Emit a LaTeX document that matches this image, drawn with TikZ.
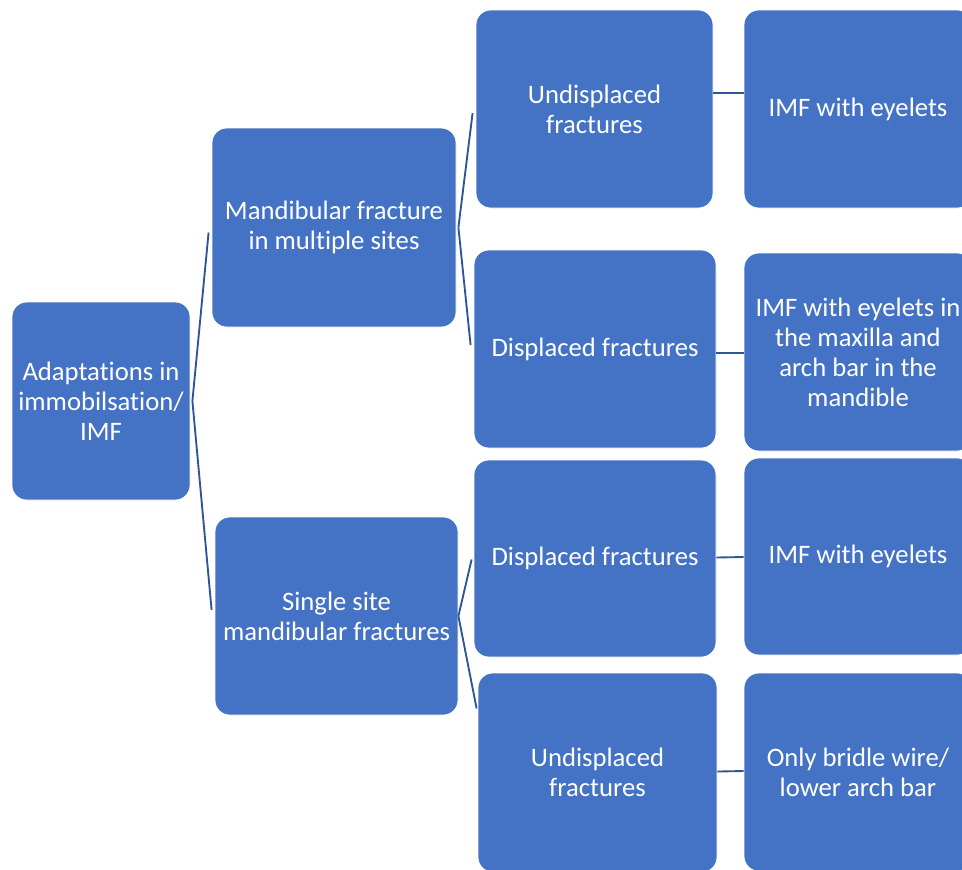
\documentclass[tikz,border=0pt]{standalone}
\usepackage{fontspec}
\setmainfont{Carlito}[Ligatures=NoCommon]
\usetikzlibrary{calc}
\definecolor{boxblue}{HTML}{4472C4}
\definecolor{linkblue}{HTML}{2F5597}
\begin{document}
\begin{tikzpicture}[x=0.75pt,y=-0.75pt,
  sabox/.style n args={2}{draw=white, line width=0.6pt, fill=boxblue, rounded corners=11pt,
    text=white, align=center, inner sep=2pt,
    font=\fontsize{20pt}{22.5pt}\selectfont,
    minimum width=#1*0.75pt, minimum height=#2*0.75pt},
  link/.style={draw=linkblue, line width=1.4pt}]
\useasboundingbox (0,0) rectangle (962,869);
\clip (0,0) rectangle (962,869);
\node[sabox={178}{198}] (root) at (101,401) {Adaptations in\\immobilsation/\\IMF};
\node[sabox={244}{199}] (mid1) at (334,227.5) {Mandibular fracture\\in multiple sites};
\node[sabox={243}{198}] (mid2) at (336.5,616) {Single site\\mandibular fractures};
\node[sabox={237}{198}] (l3a) at (594.5,109) {Undisplaced\\fractures};
\node[sabox={242}{198}] (l3b) at (595,349) {Displaced fractures};
\node[sabox={242}{197}] (l3c) at (595,558.5) {Displaced fractures};
\node[sabox={239}{199}] (l3d) at (597.5,772.5) {Undisplaced\\fractures};
\node[sabox={228}{198}] (l4a) at (858,109) {IMF with eyelets};
\node[sabox={228}{198}] (l4b) at (858,352) {IMF with eyelets in\\the maxilla and\\arch bar in the\\mandible};
\node[sabox={228}{197}] (l4c) at (858,556.5) {IMF with eyelets};
\node[sabox={228}{198}] (l4d) at (858,772) {Only bridle wire/\\lower arch bar};
\coordinate (j0) at ($(root.east)+(2,0)$);
\coordinate (j1) at ($(mid1.east)+(2,0)$);
\coordinate (j2) at ($(mid2.east)+(0,0)$);
\draw[link] (j0) -- ($(mid1.west)+(-3,5)$);
\draw[link] (j0) -- ($(mid2.west)+(-3,-6)$);
\draw[link] (j1) -- ($(l3a.west)+(-3,4)$);
\draw[link] (j1) -- ($(l3b.west)+(-3,-4)$);
\draw[link] (j2) -- ($(l3c.west)+(-2,1)$);
\draw[link] (j2) -- ($(l3d.west)+(-1,-64)$);
\draw[link] ($(l3a.east)+(0,-16)$) -- ($(l4a.west)+(0,-16)$);
\draw[link] ($(l3b.east)+(0,4)$) -- ($(l4b.west)+(0,1)$);
\draw[link] ($(l3c.east)+(0,-1)$) -- ($(l4c.west)+(0,0.5)$);
\draw[link] ($(l3d.east)+(0,-1)$) -- ($(l4d.west)+(0,-1)$);
\end{tikzpicture}
\end{document}
